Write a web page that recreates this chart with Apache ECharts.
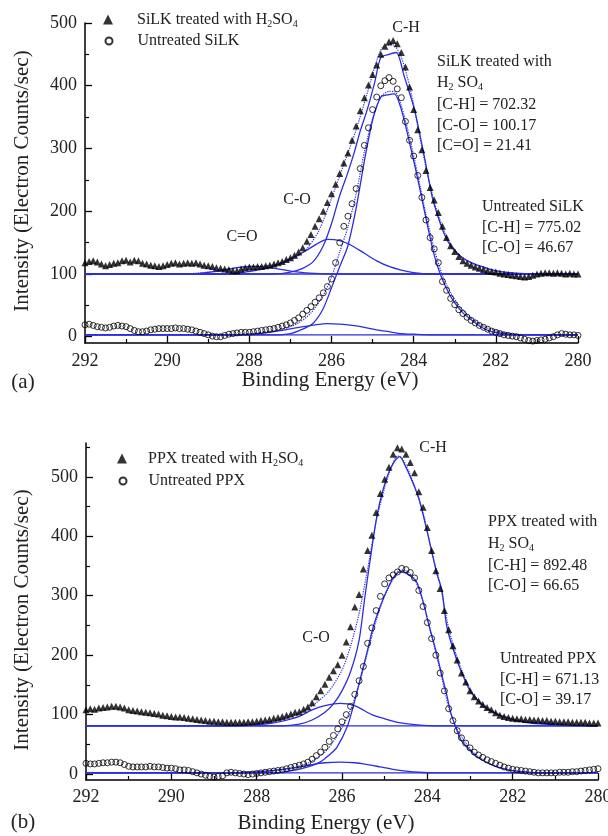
<!DOCTYPE html>
<html>
<head>
<meta charset="utf-8">
<script src="https://cdn.jsdelivr.net/npm/echarts@6/dist/echarts.min.js"></script>
<style>html,body{margin:0;padding:0;background:#fff}#main{width:608px;height:836px}</style>
</head>
<body>
<div id="main"></div>
<script>
var FONT = "'Liberation Serif','Times New Roman',serif";
var BLUE = '#2d2de0';

// binding energy grid of the measured points, 292 -> 280 eV, 0.1 eV step
var energy = [];
for (var i = 0; i <= 120; i++) energy.push(+(292 - i * 0.1).toFixed(1));

// (a) SiLK, counts
var silkTreated = [
  118,120,121,119,116,113,115,117,118,121,
  122,119,122,121,117,116,114,113,112,113,
  115,117,118,116,117,118,117,118,116,114,
  113,112,110,109,108,107,105,105,108,110,
  111,111,112,112,113,114,116,118,120,123,
  126,130,135,142,152,163,176,188,200,214,
  228,243,260,277,293,313,336,360,381,401,
  418,433,450,463,470,472,467,453,430,398,
  362,330,298,265,238,218,198,176,158,145,
  136,128,121,117,114,111,109,107,105,104,
  103,101,100,99,98,97,96,95,96,98,
  100,101,102,102,101,102,101,100,101,100,
  100
];
var silkUntreated = [
  19,20,18,16,15,14,15,17,18,17,
  16,13,10,8,8,9,11,12,13,13,
  13,13,14,13,13,12,11,9,7,5,
  3,1,0,0,2,4,5,6,7,7,
  7,8,9,10,11,12,13,15,17,19,
  22,26,30,36,42,48,55,62,70,80,
  92,118,150,176,192,212,236,268,305,333,
  362,382,400,408,413,407,395,381,343,313,
  288,257,222,186,158,140,118,88,74,61,
  51,43,37,31,26,22,18,15,12,9,
  7,5,3,2,1,0,-2,-4,-6,-7,
  -6,-5,-4,-2,0,3,5,4,3,3,
  2
];
// (b) PPX
var ppxTreated = [
  108,110,109,111,112,113,114,114,113,111,
  108,107,106,105,104,103,102,101,99,98,
  97,96,96,95,94,93,92,91,90,89,
  89,88,88,87,87,87,87,87,88,88,
  89,90,91,92,94,95,97,99,101,104,
  105,109,113,120,130,140,151,163,174,184,
  200,222,248,281,302,345,376,402,440,472,
  496,516,538,549,547,538,524,507,475,449,
  415,376,342,312,275,243,216,192,170,155,
  140,130,123,117,112,108,103,99,97,95,
  94,93,93,92,92,91,91,90,90,89,
  89,88,88,88,87,87,87,87,86,86,
  86
];
var ppxUntreated = [
  18,17,17,18,19,19,20,20,19,16,
  13,12,12,12,12,13,12,12,11,10,
  10,9,7,7,6,4,2,0,-2,-4,
  -5,-4,-3,2,3,2,1,0,-1,0,
  1,2,3,4,5,6,7,9,11,13,
  15,17,20,25,31,37,45,55,65,76,
  88,100,114,134,157,181,220,246,275,299,
  320,330,335,340,346,344,339,330,309,282,
  255,228,200,170,140,110,90,73,61,52,
  44,37,32,28,24,21,18,15,12,10,
  8,7,6,5,4,3,2,2,2,2,
  2,3,3,3,4,4,5,6,7,8,
  9
];

// fitted curves [eV, counts]
var silkTBase = [[292,100],[280,100]];
var silkTCdO = [[292,100],[289.6,100],[289.2,101],[288.8,104],[288.4,109],[288.0,112],[287.6,111],[287.2,107],[286.8,103],[286.4,101],[286.0,100],[280,100]];
var silkTCO = [[292,100],[288.6,100],[288.2,102],[287.8,106],[287.4,113],[287.0,124],[286.6,138],[286.3,150],[286.1,155],[285.8,153],[285.5,145],[285.2,133],[284.9,121],[284.6,112],[284.3,106],[284.0,102],[283.6,100],[280,100]];
var silkTCH = [[292,100],[287.4,100],[287.0,103],[286.7,109],[286.44,120],[286.2,145],[286.0,180],[285.8,225],[285.6,262],[285.44,295],[285.3,328],[285.13,362],[284.95,405],[284.8,445],[284.6,450],[284.42,453],[284.23,415],[283.98,362],[283.74,287],[283.55,223],[283.4,190],[283.25,163],[283.09,144],[282.85,128],[282.6,118],[282.35,112],[282.11,107],[281.8,103],[281.4,101],[281.0,100],[280,100]];
var silkTEnv = [[292,100],[289.6,100],[289.0,103],[288.4,109],[288.0,112],[287.6,113],[287.2,117],[286.9,125],[286.6,140],[286.3,170],[286.0,220],[285.7,275],[285.4,330],[285.1,395],[284.9,440],[284.75,462],[284.5,465],[284.3,445],[284.1,400],[283.9,335],[283.7,270],[283.5,215],[283.3,175],[283.1,147],[282.85,128],[282.6,118],[282.3,110],[282.0,105],[281.5,101],[281.0,100],[280,100]];
var silkUBase = [[292,3],[280,3]];
var silkUCO = [[292,3],[288.4,3],[288.0,4],[287.6,6],[287.2,10],[286.8,15],[286.4,19],[286.1,21],[285.8,20],[285.5,18],[285.2,15],[284.9,11],[284.6,8],[284.3,5],[284.0,4],[283.6,3],[280,3]];
var silkUCH = [[292,3],[287.4,3],[287.0,5],[286.7,12],[286.44,22],[286.2,45],[286.0,78],[285.8,112],[285.61,143],[285.4,205],[285.2,280],[285.0,345],[284.8,382],[284.6,386],[284.47,387],[284.3,362],[284.06,298],[283.86,239],[283.67,179],[283.5,130],[283.33,96],[283.15,70],[283.0,54],[282.8,38],[282.6,27],[282.35,15],[282.11,8],[281.8,5],[281.4,3],[280,3]];
var silkUEnv = [[292,3],[288.4,3],[287.8,6],[287.2,12],[286.8,22],[286.5,38],[286.2,66],[286.0,95],[285.8,135],[285.6,175],[285.4,228],[285.2,295],[285.0,348],[284.8,382],[284.6,391],[284.45,390],[284.3,368],[284.1,318],[283.9,258],[283.7,195],[283.5,140],[283.3,98],[283.1,70],[282.9,50],[282.7,36],[282.5,25],[282.2,14],[281.9,8],[281.5,4],[281.0,3],[280,3]];

var ppxTBase = [[292,81],[280,81]];
var ppxTCO = [[292,81],[288.6,81],[288.2,82],[287.8,84],[287.4,89],[287.0,97],[286.7,108],[286.4,115],[286.05,119],[285.7,115],[285.3,100],[285.0,93],[284.7,87],[284.4,84],[284.1,82],[283.7,81],[280,81]];
var ppxTCH = [[292,81],[287.4,81],[287.0,84],[286.7,91],[286.4,104],[286.2,118],[286.0,140],[285.8,172],[285.6,225],[285.46,300],[285.3,380],[285.18,435],[285.04,478],[284.9,508],[284.75,528],[284.65,534],[284.5,516],[284.35,492],[284.2,464],[284.01,410],[283.78,338],[283.66,310],[283.54,247],[283.31,192],[283.1,155],[282.98,138],[282.67,113],[282.4,102],[282.2,96],[281.73,87],[281.27,84],[280.8,82],[280.3,81],[280,81]];
var ppxTEnv = [[292,81],[288.6,81],[288.0,85],[287.6,89],[287.2,97],[286.9,106],[286.6,120],[286.3,140],[286.0,175],[285.8,215],[285.6,270],[285.4,345],[285.2,425],[285.0,482],[284.85,515],[284.7,535],[284.6,532],[284.45,512],[284.3,484],[284.1,440],[283.9,375],[283.7,318],[283.5,245],[283.3,195],[283.1,158],[282.9,132],[282.6,112],[282.3,100],[282.0,93],[281.5,87],[281.0,84],[280.5,82],[280,81]];
var ppxUBase = [[292,2],[280,2]];
var ppxUCO = [[292,2],[288.6,2],[288.2,3],[287.8,5],[287.4,8],[287.0,12],[286.7,16],[286.4,19],[286.05,20],[285.7,19],[285.4,16],[285.1,12],[284.8,8],[284.5,5],[284.2,3],[283.8,2],[280,2]];
var ppxUCH = [[292,2],[287.6,2],[287.06,7],[286.8,12],[286.52,20],[286.3,32],[286.12,45],[285.88,79],[285.74,113],[285.58,158],[285.42,203],[285.27,247],[285.11,281],[284.95,309],[284.8,330],[284.65,340],[284.5,338],[284.25,323],[284.1,290],[283.96,250],[283.8,208],[283.69,175],[283.55,135],[283.45,103],[283.33,78],[283.21,57],[283.0,40],[282.84,29],[282.6,19],[282.37,12],[282.1,7],[281.8,4],[281.4,2],[280,2]];
var ppxUEnv = [[292,2],[288.4,2],[287.8,4],[287.4,7],[287.0,13],[286.7,22],[286.4,37],[286.2,55],[286.0,78],[285.8,108],[285.6,150],[285.4,205],[285.2,258],[285.0,300],[284.8,328],[284.65,343],[284.5,342],[284.3,328],[284.1,290],[283.9,232],[283.7,175],[283.5,112],[283.3,75],[283.1,52],[282.9,35],[282.6,20],[282.3,11],[282.0,6],[281.6,3],[281.0,2],[280,2]];

var yTicksA = [0,100,200,300,400,500];
var yMinorA = [50,150,250,350,450];
var yTicksB = [0,100,200,300,400,500];
var yMinorB = [50,150,250,350,450,550];

function pairs(vals) {
  return vals.map(function (v, k) { return [energy[k], v]; });
}

function fitLine(data, gi, dotted) {
  return {
    type: 'line', data: data, xAxisIndex: gi, yAxisIndex: gi * 2,
    showSymbol: false, symbol: 'none', smooth: 0.25, silent: true, z: 2,
    lineStyle: { color: BLUE, width: dotted ? 1.2 : 1.3, type: dotted ? 'dotted' : 'solid' }
  };
}
function triangles(name, vals, gi) {
  return {
    type: 'scatter', name: name, data: pairs(vals), xAxisIndex: gi, yAxisIndex: gi * 2,
    symbol: 'triangle', symbolSize: 7, z: 3, silent: true,
    itemStyle: { color: '#000' }
  };
}
function circles(name, vals, gi) {
  return {
    type: 'scatter', name: name, data: pairs(vals), xAxisIndex: gi, yAxisIndex: gi * 2,
    symbol: 'circle', symbolSize: 6, z: 3, silent: true,
    itemStyle: { color: 'rgba(255,255,255,0)', borderColor: '#000', borderWidth: 1 }
  };
}

function xAx(gi) {
  return {
    type: 'value', gridIndex: gi, min: 280, max: 292, interval: 2, inverse: true,
    axisLine: { onZero: false, lineStyle: { color: '#000', width: 1.5 } },
    axisTick: { inside: true, length: 7, lineStyle: { color: '#000', width: 1.3 } },
    minorTick: { show: true, splitNumber: 2, length: 4, lineStyle: { color: '#000', width: 1.2 } },
    axisLabel: { fontSize: 18, fontFamily: FONT, color: '#222', margin: gi ? 8 : 9 },
    splitLine: { show: false }
  };
}
function yAx(gi, max, ticks) {
  return {
    type: 'value', gridIndex: gi, min: -10, max: max, position: 'left',
    axisLine: { show: true, lineStyle: { color: '#000', width: 1.5 } },
    axisTick: { show: true, inside: true, length: 7, customValues: ticks, lineStyle: { color: '#000', width: 1.3 } },
    axisLabel: { customValues: ticks, fontSize: 18, fontFamily: FONT, color: '#222', margin: 8 },
    splitLine: { show: false }
  };
}
function yMinor(gi, max, ticks) {
  return {
    type: 'value', gridIndex: gi, min: -10, max: max, position: 'left',
    axisLine: { show: false },
    axisTick: { show: true, inside: true, length: 4, customValues: ticks, lineStyle: { color: '#000', width: 1.2 } },
    axisLabel: { show: false },
    splitLine: { show: false }
  };
}

var richTxt = {
  g: { width: 19 },
  gc: { width: 20 },
  g2: { width: 16 },
  g2c: { width: 17 },
  n: { fontSize: 16, fontFamily: FONT, color: '#222', lineHeight: 18 },
  s: { fontSize: 10, fontFamily: FONT, color: '#222', lineHeight: 18, padding: [9, 0, 0, 0] }
};
var legendLabels = {
  'SiLK treated with H2SO4': '{g|}{n|SiLK treated with H}{s|2}{n|SO}{s|4}',
  'Untreated SiLK': '{gc|}{n|Untreated SiLK}',
  'PPX treated with H2SO4': '{g2|}{n|PPX treated with H}{s|2}{n|SO}{s|4}',
  'Untreated PPX': '{g2c|}{n|Untreated PPX}'
};
function legendItem(name, left, top, size) {
  return {
    data: [name], left: left, top: top, itemWidth: size, itemHeight: size, padding: 0,
    formatter: function (n) { return legendLabels[n]; }, textStyle: { rich: richTxt }
  };
}

function txt(x, y, s, align) {
  return {
    type: 'text', x: x, y: y, silent: true,
    style: { text: s, rich: richTxt, fontSize: 16, fontFamily: FONT, fill: '#222',
      align: align || 'left', verticalAlign: 'middle' }
  };
}
function bigTxt(x, y, s, rot) {
  return {
    type: 'text', x: x, y: y, rotation: rot || 0, silent: true,
    style: { text: s, fontSize: 21, fontFamily: FONT, fill: '#222', align: 'center', verticalAlign: 'middle' }
  };
}

var chart = echarts.init(document.getElementById('main'));
chart.setOption({
  animation: false,
  backgroundColor: '#fff',
  grid: [
    { left: 85, top: 23, width: 493, height: 320, outerBoundsMode: 'none' },
    { left: 86, top: 443, width: 512, height: 337, outerBoundsMode: 'none' }
  ],
  xAxis: [xAx(0), xAx(1)],
  yAxis: [yAx(0, 500, yTicksA), yMinor(0, 500, yMinorA), yAx(1, 557, yTicksB), yMinor(1, 557, yMinorB)],
  legend: [
    legendItem('SiLK treated with H2SO4', 103, 10, 10),
    legendItem('Untreated SiLK', 104.5, 33, 7),
    legendItem('PPX treated with H2SO4', 117, 449, 10),
    legendItem('Untreated PPX', 118.5, 473, 7)
  ],
  graphic: [
    bigTxt(22, 181, 'Intensity (Electron Counts/sec)', Math.PI / 2),
    bigTxt(22, 620, 'Intensity (Electron Counts/sec)', Math.PI / 2),
    bigTxt(330, 380, 'Binding Energy (eV)'),
    bigTxt(326, 823, 'Binding Energy (eV)'),
    bigTxt(23, 382, '(a)'),
    bigTxt(23, 822, '(b)'),
    txt(406, 28, 'C-H', 'center'),
    txt(437, 62, 'SiLK treated with'),
    txt(437, 83, '{n|H}{s|2}{n| SO}{s|4}'),
    txt(437, 105, '[C-H] = 702.32'),
    txt(437, 126, '[C-O] = 100.17'),
    txt(437, 146, '[C=O] = 21.41'),
    txt(482, 207, 'Untreated SiLK'),
    txt(482, 228, '[C-H] = 775.02'),
    txt(482, 248, '[C-O] = 46.67'),
    txt(297, 200, 'C-O', 'center'),
    txt(242, 237, 'C=O', 'center'),
    txt(433, 448, 'C-H', 'center'),
    txt(488, 522, 'PPX treated with'),
    txt(488, 544, '{n|H}{s|2}{n| SO}{s|4}'),
    txt(488, 566, '[C-H] = 892.48'),
    txt(488, 586, '[C-O] = 66.65'),
    txt(500, 659, 'Untreated PPX'),
    txt(500, 680, '[C-H] = 671.13'),
    txt(500, 700, '[C-O] = 39.17'),
    txt(316, 638, 'C-O', 'center')
  ],
  series: [
    fitLine(silkTBase, 0), fitLine(silkTCdO, 0), fitLine(silkTCO, 0), fitLine(silkTCH, 0), fitLine(silkTEnv, 0, true),
    fitLine(silkUBase, 0), fitLine(silkUCO, 0), fitLine(silkUCH, 0), fitLine(silkUEnv, 0, true),
    triangles('SiLK treated with H2SO4', silkTreated, 0),
    circles('Untreated SiLK', silkUntreated, 0),
    fitLine(ppxTBase, 1), fitLine(ppxTCO, 1), fitLine(ppxTCH, 1), fitLine(ppxTEnv, 1, true),
    fitLine(ppxUBase, 1), fitLine(ppxUCO, 1), fitLine(ppxUCH, 1), fitLine(ppxUEnv, 1, true),
    triangles('PPX treated with H2SO4', ppxTreated, 1),
    circles('Untreated PPX', ppxUntreated, 1)
  ]
});
</script>
</body>
</html>
